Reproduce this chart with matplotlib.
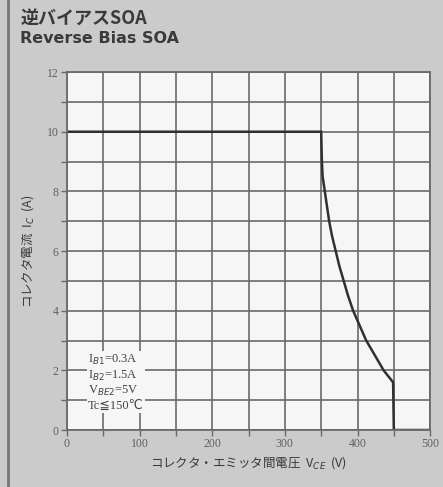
import numpy as np
import matplotlib.pyplot as plt

plt.rcParams['font.family'] = ['Noto Sans CJK JP', 'DejaVu Sans']

# SOA boundary
vce = [0, 350, 350.5, 351, 352, 355, 358, 361, 365, 370, 375, 381, 387, 394,
       403, 412, 424, 436, 449, 450, 500]
ic = [10, 10, 9.5, 9, 8.5, 8, 7.5, 7, 6.5, 6, 5.5, 5, 4.5, 4,
      3.5, 3, 2.5, 2, 1.6, 0, 0]

x_ticks = [0, 100, 200, 300, 400, 500]
y_ticks = [0, 2, 4, 6, 8, 10, 12]
conditions = ['I$_{B1}$=0.3A', 'I$_{B2}$=1.5A', 'V$_{BE2}$=5V', 'Tc≦150℃']

bg = '#cbcbcb'
ink = '#3a3a3a'

fig = plt.figure(figsize=(4.43, 4.87), dpi=100, facecolor=bg)
ax = fig.add_axes([0.151, 0.117, 0.820, 0.735])
ax.set_facecolor('#f6f6f6')

ax.set_xlim(0, 500)
ax.set_ylim(0, 12)
ax.set_xticks(np.arange(0, 501, 50))
ax.set_yticks(np.arange(0, 13, 1))
ax.grid(True, color='#6a6a6a', linewidth=1.2)
ax.set_axisbelow(True)

ax.set_xticklabels([str(v) if v in x_ticks else '' for v in np.arange(0, 501, 50)],
                   fontsize=8.5, color='#606060', family='Liberation Serif')
ax.set_yticklabels([str(v) if v in y_ticks else '' for v in np.arange(0, 13, 1)],
                   fontsize=8.5, color='#606060', family='Liberation Serif')
ax.tick_params(length=4, width=1.0, color='#6a6a6a', pad=2)

for s in ax.spines.values():
    s.set_color('#6a6a6a')
    s.set_linewidth(1.3)

ax.plot(vce, ic, color='#303030', linewidth=1.8, solid_joinstyle='miter')

ax.text(0.058, 0.215, '\n'.join(conditions), transform=ax.transAxes,
        fontsize=9, color='#444444', family=['Liberation Serif', 'DejaVu Sans'],
        va='top', ha='left', linespacing=1.15,
        bbox=dict(facecolor='#f6f6f6', edgecolor='none', pad=1))

ax.set_xlabel('コレクタ・エミッタ間電圧  V$_{CE}$  (V)', fontsize=9, color=ink, labelpad=3)
ax.set_ylabel('コレクタ電流  I$_{C}$  (A)', fontsize=9, color=ink, labelpad=8)

fig.text(0.047, 0.963, '逆バイアスSOA', fontsize=13, fontweight='bold', color=ink, va='center')
fig.text(0.045, 0.921, 'Reverse Bias SOA', fontsize=11.5, fontweight='bold', color=ink,
         va='center', family='DejaVu Sans')

# dark edge of the scanned page
fig.add_artist(plt.Line2D([0.018, 0.018], [0, 1], color='#777777', linewidth=2))

fig.savefig('out.png', dpi=100, facecolor=bg)
